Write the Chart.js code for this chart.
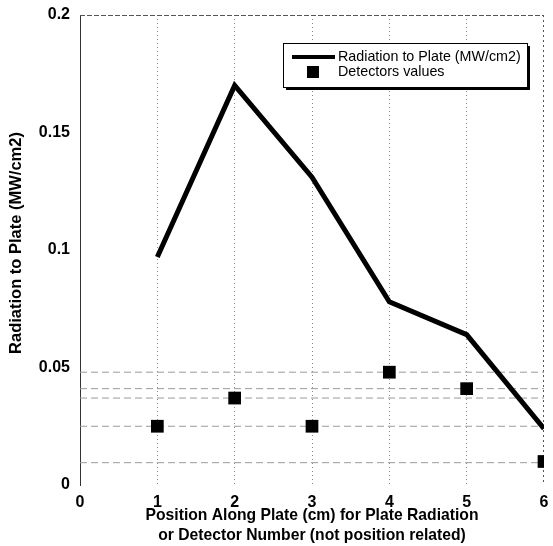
<!DOCTYPE html>
<html><head><meta charset="utf-8">
<script src="https://cdn.jsdelivr.net/npm/chart.js@4.4.1/dist/chart.umd.min.js"></script>
<style>html,body{margin:0;padding:0;background:#fff}#wrap{width:553px;height:546px}</style>
</head><body><div id="wrap"><canvas id="c" width="553" height="546"></canvas></div>
<script>
const positions = [1, 2, 3, 4, 5, 6];
const plateRadiation = [0.097, 0.170, 0.131, 0.078, 0.064, 0.024];
const detectorValues = [0.025, 0.037, 0.025, 0.048, 0.041, 0.010];
const guideLevels = [0.048, 0.041, 0.037, 0.025, 0.0095];
const yTicks = [0, 0.05, 0.1, 0.15, 0.2];
const xTicks = [0, 1, 2, 3, 4, 5, 6];
const seriesNames = ['Radiation to Plate (MW/cm2)', 'Detectors values'];
const yTitle = 'Radiation to Plate (MW/cm2)';
const xTitle = ['Position Along Plate (cm) for Plate Radiation', 'or Detector Number (not position related)'];

const FONT = "'Liberation Sans', Arial, Helvetica, sans-serif";

const guideSets = guideLevels.map(v => ({
  label: 'guide', data: [{x: 0, y: v}, {x: 6, y: v}], showLine: true,
  borderColor: '#9a9a9a', borderWidth: 1, borderDash: [7, 4], pointRadius: 0, order: 3
}));

const frame = {
  id: 'frame',
  beforeDatasetsDraw(chart) {
    const {ctx, chartArea: a} = chart;
    ctx.save();
    ctx.strokeStyle = '#555'; ctx.lineWidth = 1; ctx.setLineDash([5, 2]);
    ctx.beginPath(); ctx.moveTo(a.left, a.top + 0.5); ctx.lineTo(a.right, a.top + 0.5); ctx.stroke();
    ctx.setLineDash([2, 3]);
    ctx.beginPath(); ctx.moveTo(a.right - 0.5, a.top); ctx.lineTo(a.right - 0.5, a.bottom); ctx.stroke();
    ctx.restore();
  },
  afterDraw(chart) {
    const {ctx} = chart;
    ctx.save();
    ctx.font = 'bold 16.5px ' + FONT; ctx.fillStyle = '#000';
    ctx.textAlign = 'center'; ctx.textBaseline = 'middle';
    ctx.translate(16, 243); ctx.rotate(-Math.PI / 2);
    ctx.fillText(yTitle, 0, 0);
    ctx.restore();
    ctx.save();
    const L = 283, T = 43, W = 244, H = 44;
    ctx.fillStyle = '#000'; ctx.fillRect(L + 3, T + 3, W, H);
    ctx.fillStyle = '#fff'; ctx.fillRect(L, T, W, H);
    ctx.strokeStyle = '#000'; ctx.lineWidth = 1; ctx.strokeRect(L + 0.5, T + 0.5, W, H);
    ctx.lineWidth = 4; ctx.beginPath(); ctx.moveTo(292, 57); ctx.lineTo(335, 57); ctx.stroke();
    ctx.fillStyle = '#000'; ctx.fillRect(307, 66, 12, 12);
    ctx.font = '14.3px ' + FONT; ctx.textAlign = 'left'; ctx.textBaseline = 'middle';
    ctx.fillText(seriesNames[0], 338, 57);
    ctx.fillText(seriesNames[1], 338, 72);
    ctx.restore();
  }
};

new Chart(document.getElementById('c'), {
  type: 'scatter',
  data: {
    datasets: [
      ...guideSets,
      { label: seriesNames[0], data: positions.map((x, i) => ({x, y: plateRadiation[i]})), showLine: true,
        borderColor: '#000', borderWidth: 5, pointRadius: 0, order: 2, borderJoinStyle: 'miter' },
      { label: seriesNames[1], data: positions.map((x, i) => ({x, y: detectorValues[i]})), showLine: false,
        backgroundColor: '#000', borderColor: '#000', pointStyle: 'rect', pointRadius: 9, borderWidth: 0, order: 1 }
    ]
  },
  options: {
    responsive: false, animation: false, maintainAspectRatio: false,
    layout: {padding: {left: 0, top: 15, right: 4, bottom: 0}},
    plugins: {legend: {display: false}, tooltip: {enabled: false}},
    scales: {
      x: {
        type: 'linear', min: 0, max: 6,
        afterBuildTicks(s) { s.ticks = xTicks.map(v => ({value: v})); },
        afterFit(s) { s.height = 61; s.paddingLeft = 0; s.paddingRight = 0; },
        ticks: {color: '#000', font: {family: FONT, size: 16, weight: 'bold'}, padding: 8, maxRotation: 0, autoSkip: false},
        grid: {color: (c) => (c.tick && c.tick.value > 0 && c.tick.value < 6) ? '#8a8a8a' : 'rgba(0,0,0,0)', lineWidth: 1, tickLength: 0, drawTicks: false},
        border: {display: false, dash: [1, 3]},
        title: {display: true, text: xTitle, color: '#000', font: {family: FONT, size: 15.7, weight: 'bold', lineHeight: 20/15.7}, padding: {top: 0, bottom: 0}}
      },
      y: {
        type: 'linear', min: 0, max: 0.2,
        afterBuildTicks(s) { s.ticks = yTicks.map(v => ({value: v})); },
        afterFit(s) { s.width = 80; s.paddingTop = 0; s.paddingBottom = 0; },
        ticks: {color: '#000', font: {family: FONT, size: 16, weight: 'bold'}, padding: 10,
          callback: (v) => String(Math.round(v * 100) / 100)},
        grid: {display: false, drawTicks: false},
        border: {display: true, color: '#333', width: 1}
      }
    }
  },
  plugins: [frame]
});
</script></body></html>
